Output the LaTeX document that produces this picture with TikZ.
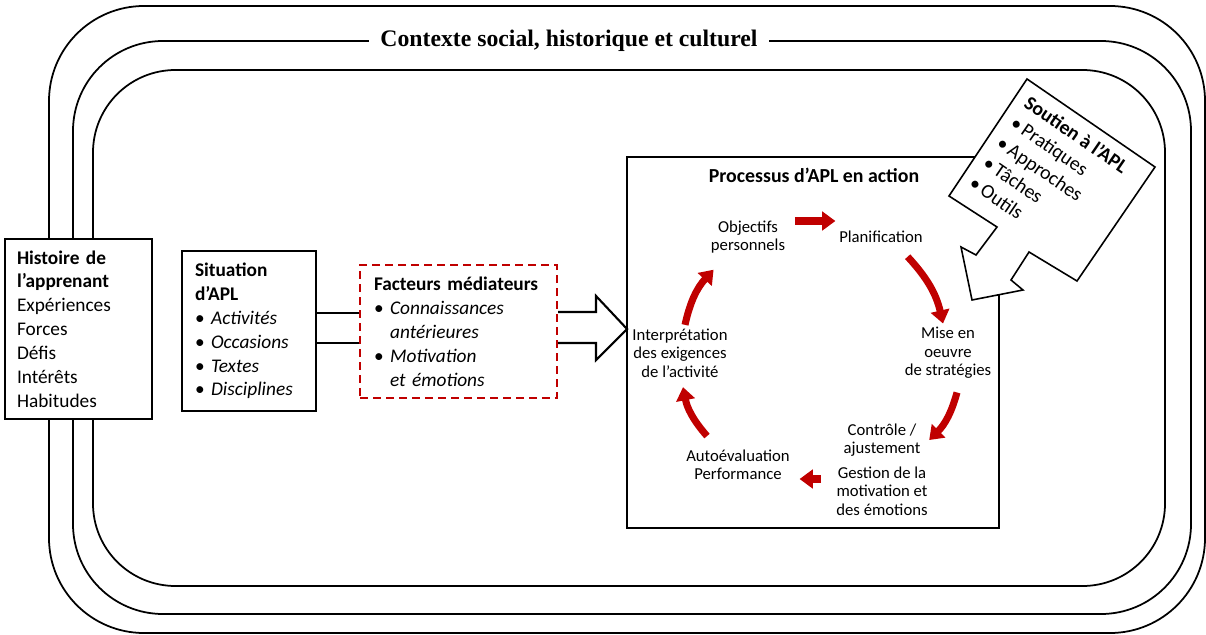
\documentclass[tikz,border=0pt]{standalone}
\usepackage{fontspec}
\setmainfont{Carlito}
\newfontfamily\titlefont{Liberation Serif}
\usepackage{tikz}
\usetikzlibrary{arrows.meta}
\definecolor{aplred}{RGB}{192,0,0}
\newcommand{\puce}{\textbullet\ }

\begin{document}
\begin{tikzpicture}[x=0.02cm, y=-0.02cm, >=Stealth,
  box/.style={draw, fill=white, line width=0.8pt, align=left, font=\fontsize{11}{13.6}\selectfont},
  etape/.style={align=center, inner sep=2pt, font=\fontsize{9.5}{10.5}\selectfont},
  boucle/.style={draw=aplred, line width=4pt, -{Triangle[width=10.5pt,length=7.5pt]}}]
\useasboundingbox (0,0) rectangle (1206,635);
% three frames of the context
\draw[line width=1pt, rounded corners=1.9cm] (49,6) rectangle (1205,633);
\draw[line width=1pt, rounded corners=1.8cm] (73,41) rectangle (1191,614);
\draw[line width=1pt, rounded corners=1.65cm] (93,70) rectangle (1165,586);
\node[fill=white, inner xsep=0.22cm, font=\titlefont\bfseries\fontsize{13.5}{16}\selectfont] (contexte) at (569,41) {Contexte social, historique et culturel};

\node[box, text width=2.46cm, inner xsep=0.24cm, minimum height=3.6cm] (histoire) at (78.5,329) {\textbf{Histoire de}\\\textbf{l’apprenant}\\Expériences\\Forces\\Défis\\Intérêts\\Habitudes};
\node[box, text width=2.16cm, inner xsep=0.26cm, minimum height=3.2cm] (situation) at (249,331) {\textbf{Situation}\\\textbf{d’APL}\\\puce\textit{Activités}\\\puce\textit{Occasions}\\\puce\textit{Textes}\\\puce\textit{Disciplines}};
\node[box, draw=aplred, line width=1.2pt, dash pattern=on 0.16cm off 0.1cm, text width=3.38cm, inner xsep=0.28cm, minimum height=2.66cm] (facteurs) at (458.5,331.5) {\textbf{Facteurs médiateurs}\\\puce\textit{Connaissances}\\\hphantom{\puce}\textit{antérieures}\\\puce\textit{Motivation}\\\hphantom{\puce}\textit{et émotions}};

\draw[line width=1.2pt] (situation.east) ++(0,-18) coordinate (bandhaut) -- (bandhaut -| facteurs.west);
\draw[line width=1.2pt] (situation.east) ++(0,12) coordinate (bandbas) -- (bandbas -| facteurs.west);
\draw[line width=1.2pt] (facteurs.east) ++(0,-19.5) -- ++(38,0) -- ++(0,-16) -- ++(31,33) -- ++(-31,31) -- ++(0,-17) -- ++(-38,0);

% process box
\node[draw, line width=1.3pt, minimum width=7.44cm, minimum height=7.42cm] (processus) at (813,342.5) {};
\node[font=\bfseries\fontsize{11.3}{13}\selectfont] (titreproc) at (814,175) {Processus d’APL en action};
\node[etape] (objectifs) at (748,237) {Objectifs\\personnels};
\node[etape] (planif) at (881,237) {Planification};
\node[etape] (mise) at (948,353) {Mise en\\oeuvre\\de stratégies};
\node[etape] (controle) at (882,440) {Contrôle /\\ajustement};
\node[etape] (gestion) at (882,491) {Gestion de la\\motivation et\\des émotions};
\node[etape] (auto) at (738,465) {Autoévaluation\\Performance};
\node[etape] (interp) at (680,353) {Interprétation\\des exigences\\de l’activité};

\draw[boucle] ([xshift=0.12cm,yshift=0.32cm]objectifs.east) -- ([yshift=0.32cm]objectifs.east -| planif.west);
\draw[boucle] ([xshift=-0.38cm,yshift=-0.2cm]planif.south east) to[bend left=15] ([xshift=-0.1cm]mise.north);
\draw[boucle] ([xshift=0.18cm,yshift=-0.2cm]mise.south) to[bend left=15] ([xshift=0.1cm]controle.east);
\draw[boucle] ([xshift=-0.23cm,yshift=0.24cm]gestion.west) -- ([xshift=0.12cm,yshift=0.24cm]gestion.west -| auto.east);
\draw[boucle] ([xshift=-0.62cm,yshift=0.2cm]auto.north) to[bend left=15] ([xshift=0.06cm,yshift=-0.12cm]interp.south);
\draw[boucle] ([xshift=0.1cm]interp.north) to[bend left=15] ([xshift=0.13cm,yshift=-0.25cm]objectifs.south west);

% callout
\draw[line width=0.9pt, fill=white] (1027,79) -- (1155,167) -- (1077,281) -- (1029,252) -- (1011,280) -- (1023,290) -- (972,300) -- (961,247) -- (976,255) -- (997,227) -- (949,196) -- cycle;
\node[rotate=-34.5, anchor=north west, align=left, inner sep=2pt, font=\fontsize{11.3}{13.8}\selectfont] (soutien) at (1030,89) {\textbf{Soutien à l’APL}\\\textbullet\,Pratiques\\\textbullet\,Approches\\\textbullet\,Tâches\\\textbullet\,Outils};
\end{tikzpicture}
\end{document}
